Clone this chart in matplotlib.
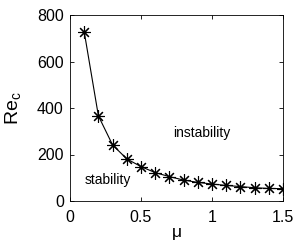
import matplotlib
matplotlib.use("Agg")
import matplotlib.pyplot as plt

mu = [0.1, 0.2, 0.3, 0.4, 0.5, 0.6, 0.7, 0.8, 0.9, 1.0, 1.1, 1.2, 1.3, 1.4, 1.5]
re_c = [728, 366, 241, 181, 148, 122, 105, 90, 80, 73, 67, 62, 57, 54, 53]

plt.rcParams["font.family"] = ["Liberation Sans", "DejaVu Sans"]

fig = plt.figure(figsize=(2.95, 2.48), dpi=100)
ax = fig.add_axes([70 / 295, 1 - 201 / 248, 213 / 295, 186 / 248])

ax.plot(mu, re_c, color="black", lw=0.8)
ax.plot(mu, re_c, linestyle="none", marker=(8, 2, 0), markersize=9,
        markeredgewidth=0.8, color="black")

ax.set_xlim(0, 1.5)
ax.set_ylim(0, 800)
ax.set_xticks([0, 0.5, 1, 1.5])
ax.set_xticklabels(["0", "0.5", "1", "1.5"])
ax.set_yticks([0, 200, 400, 600, 800])
ax.tick_params(direction="in", top=True, right=True, labelsize=11.5,
               length=3, width=0.6)
ax.tick_params(axis="x", pad=6.5)
ax.tick_params(axis="y", pad=4.5)
for s in ax.spines.values():
    s.set_linewidth(0.6)

ax.set_xlabel("μ", fontsize=12.5, labelpad=0)
ax.set_ylabel("Re$_\\mathregular{c}$", fontsize=14)
ax.yaxis.set_label_coords(-0.215, 0.5)

ax.text(0.926, 292, "instability", fontsize=10, ha="center", va="center")
ax.text(0.264, 92, "stability", fontsize=10, ha="center", va="center")

fig.savefig("out.png", dpi=100)
